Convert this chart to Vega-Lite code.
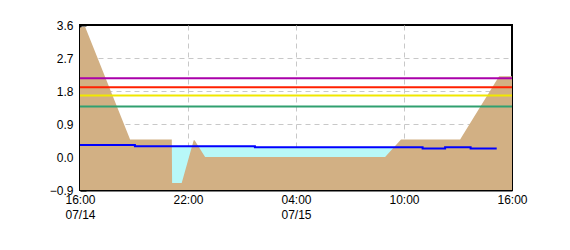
{
  "$schema": "https://vega.github.io/schema/vega-lite/v6.json",
  "width": 432,
  "height": 165,
  "autosize": "none",
  "padding": {"left": 80, "top": 25, "right": 58, "bottom": 60},
  "background": "white",
  "config": {
    "view": {"stroke": "black", "strokeWidth": 2},
    "font": "Liberation Sans",
    "axis": {
      "labelFont": "Liberation Sans",
      "labelFontSize": 12,
      "labelColor": "black",
      "labelOverlap": false,
      "gridColor": "#C8C8C8",
      "gridDash": [5, 4],
      "gridWidth": 1,
      "domainColor": "black",
      "domainWidth": 2,
      "zindex": 1,
      "title": null
    }
  },
  "datasets": {
    "tan": [
      {"t": "2024-07-14T16:00:00Z", "v": 3.53},
      {"t": "2024-07-14T16:17:00Z", "v": 3.55},
      {"t": "2024-07-14T18:47:00Z", "v": 0.48},
      {"t": "2024-07-14T21:06:00Z", "v": 0.48},
      {"t": "2024-07-14T21:07:00Z", "v": -0.71},
      {"t": "2024-07-14T21:39:00Z", "v": -0.71},
      {"t": "2024-07-14T22:19:00Z", "v": 0.46},
      {"t": "2024-07-14T22:22:00Z", "v": 0.46},
      {"t": "2024-07-14T22:57:00Z", "v": 0.0},
      {"t": "2024-07-15T08:57:00Z", "v": 0.0},
      {"t": "2024-07-15T09:50:00Z", "v": 0.48},
      {"t": "2024-07-15T13:07:00Z", "v": 0.48},
      {"t": "2024-07-15T15:17:00Z", "v": 2.2},
      {"t": "2024-07-15T16:00:00Z", "v": 2.2}
    ],
    "water": [
      {"t": "2024-07-14T16:00:00Z", "v": 0.33},
      {"t": "2024-07-14T19:03:00Z", "v": 0.29},
      {"t": "2024-07-15T01:43:00Z", "v": 0.265},
      {"t": "2024-07-15T11:02:00Z", "v": 0.23},
      {"t": "2024-07-15T12:17:00Z", "v": 0.265},
      {"t": "2024-07-15T13:42:00Z", "v": 0.23},
      {"t": "2024-07-15T15:09:00Z", "v": 0.23}
    ],
    "thr": [
      {"v": 2.15, "c": "purple"},
      {"v": 1.9, "c": "red"},
      {"v": 1.68, "c": "yellow"},
      {"v": 1.38, "c": "green"}
    ]
  },
  "layer": [
    {
      "data": {"name": "water"},
      "mark": {"type": "area", "interpolate": "step-after", "color": "#B8F8F8"},
      "encoding": {
        "x": {
          "field": "t", "type": "temporal",
          "scale": {"type": "utc", "domain": [{"year": 2024, "month": 7, "date": 14, "hours": 16, "utc": true}, {"year": 2024, "month": 7, "date": 15, "hours": 16, "utc": true}]},
          "axis": {
            "values": [
              {"year": 2024, "month": 7, "date": 14, "hours": 16, "utc": true},
              {"year": 2024, "month": 7, "date": 14, "hours": 22, "utc": true},
              {"year": 2024, "month": 7, "date": 15, "hours": 4, "utc": true},
              {"year": 2024, "month": 7, "date": 15, "hours": 10, "utc": true},
              {"year": 2024, "month": 7, "date": 15, "hours": 16, "utc": true}
            ],
            "tickCount": 20,
            "grid": true,
            "gridOpacity": {"condition": {"test": "datum.index == 0 || datum.index == 1", "value": 0}, "value": 1},
            "ticks": false,
            "labelFlush": false,
            "labelOverlap": false,
            "labelPadding": 4,
            "labelLineHeight": 15,
            "labelExpr": "datum.index == 0 || utchours(datum.value) == 4 ? [utcFormat(datum.value, '%H:%M'), utcFormat(datum.value, '%m/%d')] : utcFormat(datum.value, '%H:%M')"
          }
        },
        "y": {
          "field": "v", "type": "quantitative",
          "scale": {"domain": [-0.9, 3.6], "nice": false, "zero": false},
          "axis": {
            "values": [-0.9, 0, 0.9, 1.8, 2.7, 3.6],
            "tickCount": 20,
            "format": ".1f",
            "grid": true,
            "gridOpacity": {"condition": {"test": "datum.value < -0.8 || datum.value > 3.5", "value": 0}, "value": 1},
            "labelOverlap": false,
            "labelFlush": false,
            "tickSize": -6,
            "tickWidth": 2,
            "tickColor": "black",
            "labelPadding": 13
          }
        },
        "y2": {"datum": -0.9}
      }
    },
    {
      "data": {"name": "tan"},
      "mark": {"type": "area", "color": "#D2B084"},
      "encoding": {
        "x": {"field": "t", "type": "temporal"},
        "y": {"field": "v", "type": "quantitative"},
        "y2": {"datum": -0.9}
      }
    },
    {
      "data": {"name": "thr"},
      "mark": {"type": "rule", "strokeWidth": 2},
      "encoding": {
        "y": {"field": "v", "type": "quantitative"},
        "color": {
          "field": "c", "type": "nominal",
          "scale": {"domain": ["purple", "red", "yellow", "green"], "range": ["#AA00AA", "#FF2000", "#F0E800", "#30A070"]},
          "legend": null
        }
      }
    },
    {
      "data": {"name": "water"},
      "mark": {"type": "line", "interpolate": "step-after", "color": "#0000FF", "strokeWidth": 2},
      "encoding": {
        "x": {"field": "t", "type": "temporal"},
        "y": {"field": "v", "type": "quantitative"}
      }
    }
  ]
}
